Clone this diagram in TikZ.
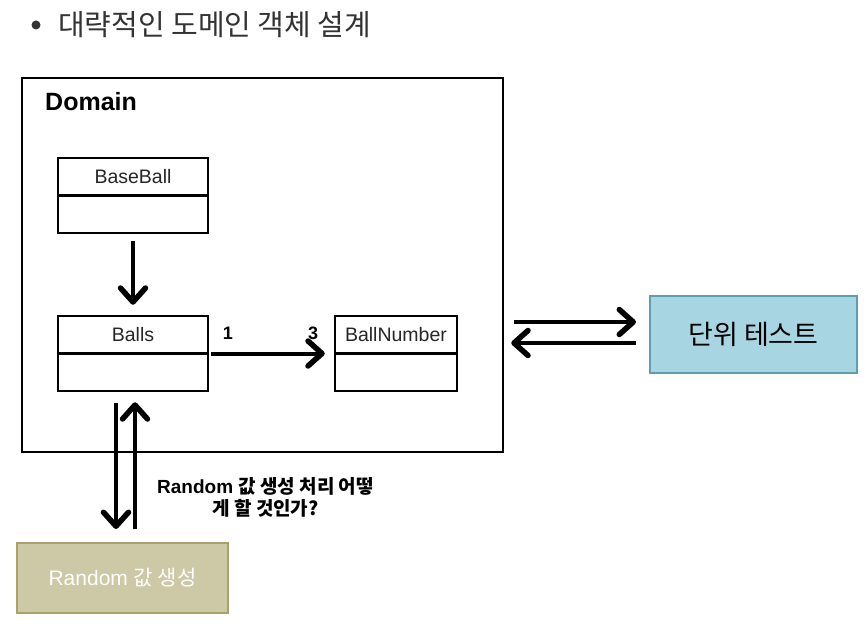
\documentclass[tikz,border=0pt]{standalone}
\usepackage{fontspec}
\setmainfont{Liberation Sans}
\newfontfamily\kr{Noto Sans CJK KR}
\usetikzlibrary{arrows.meta}
\definecolor{testblue}{HTML}{A8D5E2}
\definecolor{testedge}{HTML}{5F9EAE}
\definecolor{rndfill}{HTML}{CDC8A6}
\definecolor{rndedge}{HTML}{A9A167}
\tikzset{
  cls/.style={draw, line width=2.5pt, minimum width=150pt, minimum height=75pt, inner sep=0pt},
  clstxt/.style={inner sep=0pt, font=\fontsize{19.5}{22}\selectfont, text=black!85},
  arr/.style={line width=4pt, -{Straight Barb[length=14pt,width=25pt,line width=5.5pt,round]}},
  mult/.style={inner sep=0pt, font=\fontsize{18}{21}\selectfont\bfseries},
}

\begin{document}
\begin{tikzpicture}[x=1pt,y=-1pt]
\useasboundingbox (0,0) rectangle (866,631);
\path (36,25) node[circle, fill=black!80, inner sep=0pt, minimum size=9pt] (dot) {}
		(58,25) node[anchor=west, inner sep=0pt, text=black!80] (title) {\kr\fontsize{29}{32}\selectfont 대략적인 도메인 객체 설계}
		(262.5,265) node[draw, line width=2.5pt, minimum width=481pt, minimum height=374pt] (domain) {}
		(45,102) node[anchor=west, inner sep=0pt] (domtxt) {\fontsize{25}{28}\selectfont\bfseries Domain}
		(133,195.5) node[cls] (baseball) {}
		(133,353.5) node[cls] (balls) {}
		(396,353.5) node[cls, minimum width=122pt] (ballnum) {}
		(133,177) node[clstxt] (baseballtxt) {BaseBall}
		(133,335) node[clstxt] (ballstxt) {Balls}
		(396,335) node[clstxt] (ballnumtxt) {BallNumber}
		(228,333) node[mult] (one) {1}
		(313,333) node[mult] (three) {3}
		(753.5,334.5) node[draw=testedge, fill=testblue, line width=2pt, minimum width=207pt, minimum height=77pt] (utest) {\kr\fontsize{27}{30}\selectfont 단위 테스트}
		(122.5,578) node[draw=rndedge, fill=rndfill, line width=2pt, minimum width=211pt, minimum height=70pt, text=white] (rnd) {\fontsize{21}{24}\selectfont Random {\kr 값 생성}}
		(265.5,497) node[align=center, inner sep=0pt, font=\fontsize{19}{22}\selectfont\bfseries] (question) {Random {\kr\bfseries 값 생성 처리 어떻}\\{\kr\bfseries 게 할 것인가?}}
;

\draw[line width=2.5pt] (baseball.west) -- (baseball.east);
\draw[line width=2.5pt] (balls.west) -- (balls.east);
\draw[line width=2.5pt] (ballnum.west) -- (ballnum.east);

\draw[arr, shorten <=7pt, shorten >=10pt] (baseball) -- (balls);
\draw[arr, shorten <=2pt, shorten >=9pt] (balls.east) -- (ballnum.west);

\coordinate (up) at ([yshift=12.5pt]utest.west);
\coordinate (lo) at ([yshift=-8.5pt]utest.west);
\draw[arr, shorten <=10pt, shorten >=13pt] (up -| domain.east) -- (up);
\draw[arr, shorten <=13pt, shorten >=7pt] (lo) -- (lo -| domain.east);

\coordinate (dn) at ([xshift=-17pt]balls.south);
\coordinate (rt) at ([xshift=2pt]balls.south);
\draw[arr, shorten <=11pt, shorten >=13pt] (dn) -- (dn |- rnd.north);
\draw[arr, shorten <=13pt, shorten >=10pt] (rt |- rnd.north) -- (rt);

\end{tikzpicture}
\end{document}
